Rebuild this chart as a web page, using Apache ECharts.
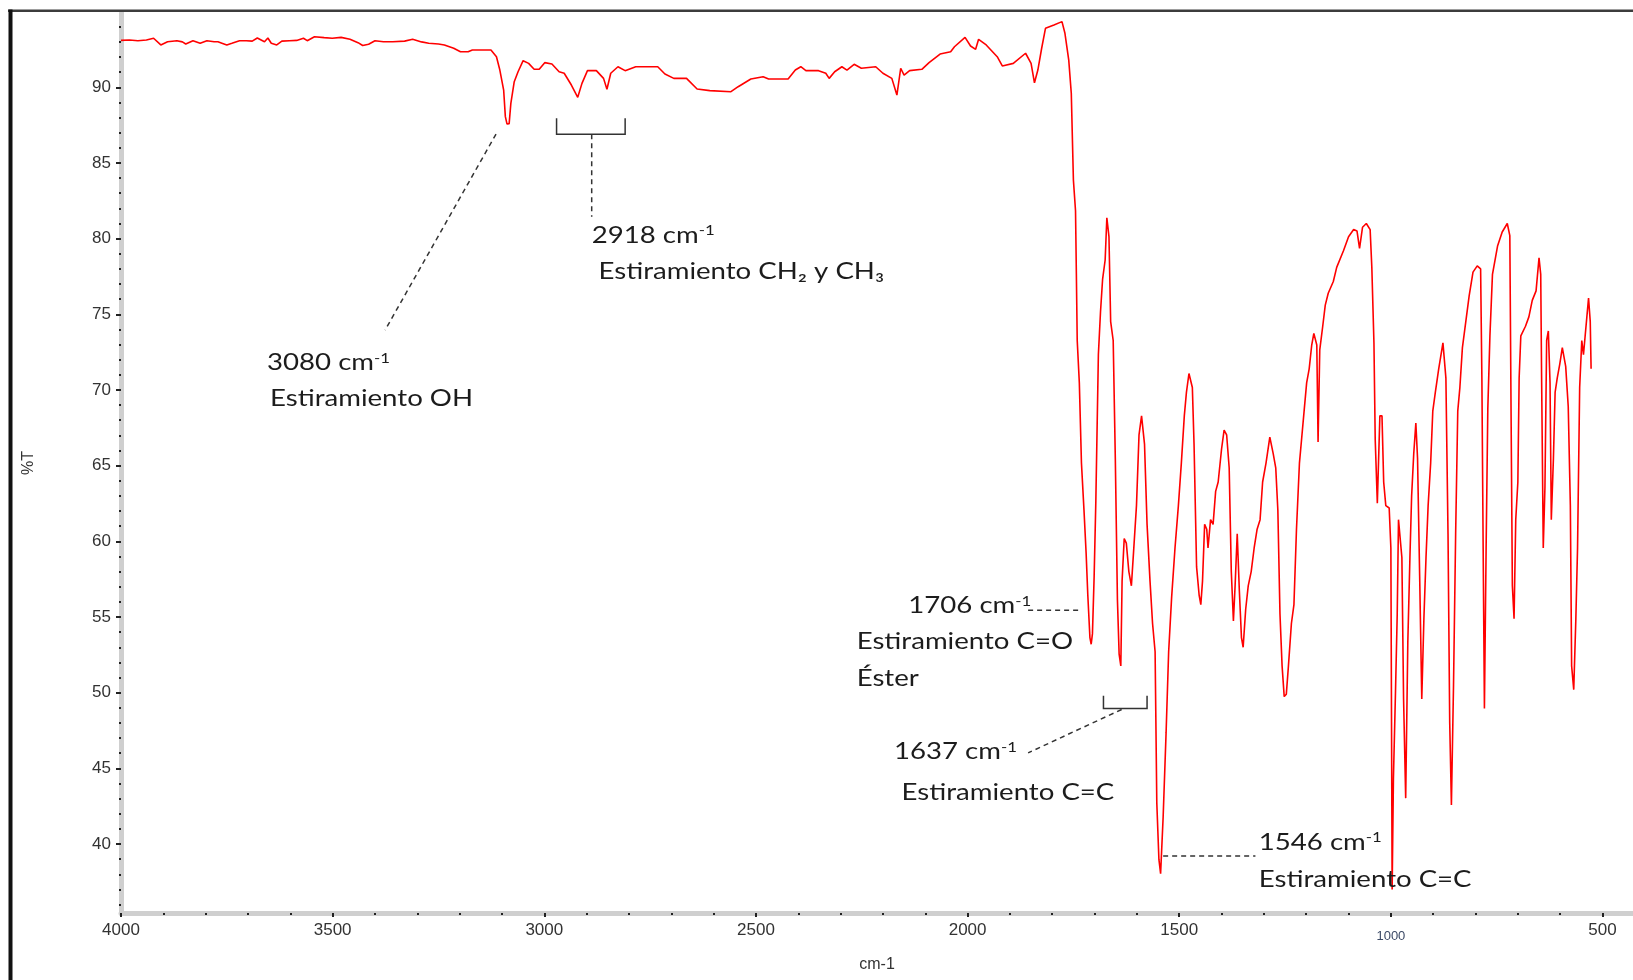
<!DOCTYPE html>
<html><head><meta charset="utf-8">
<script src="https://cdn.jsdelivr.net/npm/echarts@6/dist/echarts.min.js"></script>
<style>html,body{margin:0;padding:0;background:#fff}#c{width:1633px;height:980px}</style>
</head><body><div id="c"></div>
<script>
// ---- data (wavenumber cm-1, %T) ----
const wavenumbers = [4000,3997,3980,3960,3940,3923,3906,3890,3868,3855,3847,3830,3813,3797,3780,3771,3760,3750,3738,3720,3704,3690,3678,3661,3653,3645,3632,3620,3602,3585,3569,3560,3543,3520,3501,3480,3459,3440,3429,3415,3400,3380,3358,3330,3311,3290,3273,3250,3236,3214,3198,3180,3170,3126,3113,3105,3096,3092,3088,3083,3079,3071,3062,3050,3037,3024,3012,2999,2982,2965,2953,2936,2921,2911,2898,2877,2860,2852,2843,2826,2809,2784,2732,2715,2694,2664,2639,2609,2559,2542,2512,2483,2470,2424,2407,2394,2382,2352,2335,2327,2314,2297,2285,2268,2251,2217,2200,2179,2167,2158,2150,2137,2108,2091,2065,2040,2031,2006,1993,1981,1974,1956,1930,1918,1892,1863,1850,1842,1834,1825,1816,1796,1777,1770,1761,1755,1750,1745,1743,1741,1736,1731,1725,1720,1716,1711,1708,1705,1701,1697,1691,1686,1681,1675,1671,1666,1662,1656,1651,1646,1642,1638,1635,1630,1625,1619,1613,1608,1601,1595,1589,1582,1576,1569,1563,1557,1553,1548,1544,1538,1531,1525,1518,1510,1502,1495,1488,1483,1477,1469,1465,1459,1453,1449,1445,1440,1435,1432,1426,1420,1414,1408,1400,1394,1388,1382,1377,1372,1368,1363,1358,1353,1349,1343,1337,1330,1323,1316,1309,1303,1295,1286,1278,1272,1267,1262,1257,1252,1247,1242,1235,1229,1223,1216,1211,1205,1199,1193,1187,1182,1175,1172,1168,1161,1155,1148,1136,1128,1112,1100,1088,1080,1074,1067,1058,1049,1045,1040,1037,1032,1026,1021,1017,1012,1004,1000,997,994,989,985,982,978,974,970,965,960,955,951,946,941,937,932,927,922,917,912,906,901,895,887,877,870,865,861,857,852,847,842,837,831,823,815,806,796,788,785,782,779,775,771,766,760,748,737,725,719,716,713,709,705,700,697,693,682,674,666,657,650,646,644,640,636,632,628,624,621,616,612,607,601,595,587,581,576,573,568,563,559,554,549,545,541,537,533,529,527];
const transmittance = [93.1,93.13,93.13,93.08,93.13,93.24,92.8,93.01,93.08,93.0,92.86,93.08,92.91,93.08,93.01,93.01,92.9,92.8,92.91,93.08,93.08,93.05,93.26,93.01,93.26,92.91,92.8,93.05,93.08,93.1,93.24,93.08,93.34,93.28,93.24,93.3,93.17,92.95,92.76,92.85,93.08,93.01,93.01,93.05,93.17,93.0,92.91,92.86,92.8,92.58,92.35,92.35,92.47,92.47,92.02,91.14,89.82,88.06,87.57,87.6,88.94,90.37,91.03,91.76,91.58,91.19,91.19,91.63,91.54,91.03,90.93,90.15,89.34,90.26,91.1,91.1,90.59,89.87,90.93,91.36,91.1,91.36,91.36,90.88,90.59,90.59,89.89,89.78,89.71,90.04,90.55,90.7,90.55,90.55,91.14,91.36,91.1,91.1,90.93,90.59,91.03,91.36,91.14,91.52,91.26,91.36,90.93,90.59,89.49,91.26,90.81,91.1,91.19,91.63,92.2,92.35,92.68,93.3,92.73,92.51,93.17,92.8,92.02,91.41,91.58,92.25,91.58,90.3,91.14,92.58,93.9,94.12,94.34,93.57,91.8,89.6,83.87,81.84,77.64,73.27,70.47,65.17,62.06,59.25,56.45,53.64,53.2,53.9,57.7,62.67,72.34,75.15,77.33,78.59,81.38,80.13,74.52,73.27,65.48,56.13,52.55,51.77,57.37,60.18,59.88,58.0,57.06,59.25,62.36,67.04,68.29,66.42,61.12,57.37,54.57,52.7,42.72,38.98,38.04,41.78,47.39,52.7,56.28,59.56,62.36,65.17,68.29,69.84,71.09,70.16,66.42,58.31,56.45,55.82,57.37,61.12,60.8,59.56,61.43,61.12,63.3,63.92,66.1,67.35,67.04,64.86,58.0,54.73,57.06,60.5,56.75,53.64,53.0,55.51,57.06,58.0,59.56,60.8,61.43,63.92,65.17,66.88,65.79,64.86,62.05,55.2,51.77,49.74,49.9,51.77,54.57,55.82,60.8,65.17,66.73,68.6,70.47,71.4,72.97,73.74,72.97,66.57,72.65,74.21,75.61,76.39,77.17,78.1,79.2,80.13,80.6,80.5,79.35,80.75,81.0,80.6,78.1,73.12,66.73,62.52,68.29,68.29,63.92,62.36,62.2,59.56,37.0,44.31,50.16,55.2,61.43,61.43,58.93,49.58,43.03,53.32,58.93,62.98,65.79,67.82,65.48,57.69,49.58,54.88,58.93,62.36,65.17,68.6,69.84,71.4,73.12,70.78,60.49,48.02,42.57,50.51,60.49,68.6,70.16,72.8,74.52,76.23,77.79,78.2,78.0,70.78,59.56,48.96,59.56,68.75,73.58,77.64,79.51,80.44,81.0,80.2,68.29,57.06,54.88,61.43,63.92,70.78,73.58,74.21,74.83,75.92,76.55,78.73,77.64,71.09,59.56,63.61,73.27,73.9,70.47,61.43,65.48,69.84,70.78,71.71,72.8,71.56,68.91,62.36,51.77,50.2,54.88,59.56,70.16,73.27,72.34,73.58,74.83,76.08,74.52,71.4];

const xTickLabels = [4000,3500,3000,2500,2000,1500,1000,500];
const yTickLabels = [40,45,50,55,60,65,70,75,80,85,90];
const xMinorTicks = [3900,3800,3700,3600,3400,3300,3200,3100,2900,2800,2700,2600,2400,2300,2200,2100,1900,1800,1700,1600,1400,1300,1200,1100,900,800,700,600];
const yMinorTicks = [36,37,38,39,41,42,43,44,46,47,48,49,51,52,53,54,56,57,58,59,61,62,63,64,66,67,68,69,71,72,73,74,76,77,78,79,81,82,83,84,86,87,88,89,91,92,93,94];

// annotation anchors in data units (wavenumber, %T)
const annoTexts = [
  {text:'3080 cm', sup:true, w:3655, t:71.78},
  {text:'Estiramiento OH', w:3648, t:69.43},
  {text:'2918 cm', sup:true, w:2888, t:80.22},
  {text:'Estiramiento CH\u2082 y CH\u2083', w:2872, t:77.83},
  {text:'1706 cm', sup:true, w:2140, t:55.75},
  {text:'Estiramiento C=O', w:2262, t:53.40},
  {text:'\u00C9ster', w:2262, t:50.96},
  {text:'1637 cm', sup:true, w:2174, t:46.10},
  {text:'Estiramiento C=C', w:2156, t:43.40},
  {text:'1546 cm', sup:true, w:1312, t:40.12},
  {text:'Estiramiento C=C', w:1312, t:37.67}
];
const annoLines = [
  {dash:true, pts:[[3114,86.91],[3376,73.96]]},
  {dash:false, pts:[[2971,87.95],[2971,86.89],[2809,86.89],[2809,87.95]]},
  {dash:true, pts:[[2888,86.89],[2888,81.45]]},
  {dash:true, pts:[[1857,55.44],[1730,55.44]]},
  {dash:false, pts:[[1679,49.80],[1679,48.96],[1576,48.96],[1576,49.80]]},
  {dash:true, pts:[[1636,48.89],[1857,46.02]]},
  {dash:true, pts:[[1538,39.21],[1320,39.21]]}
];

const seriesData = wavenumbers.map((w,i)=>[w, transmittance[i]]);
const X_MIN = 428, X_MAX = 4000, Y_MIN = 35.44, Y_MAX = 94.91;
const axisFont = 'Liberation Sans, Arial, sans-serif';

const chart = echarts.init(document.getElementById('c'), null, {renderer:'canvas'});
const option = {
  animation:false,
  backgroundColor:'#fff',
  grid:{left:121, right:0, top:13, bottom:67, containLabel:false},
  xAxis:[{
    type:'value', inverse:true, min:X_MIN, max:X_MAX,
    name:'cm-1', nameLocation:'middle', nameGap:44,
    nameTextStyle:{fontFamily:axisFont, fontSize:16, color:'#333'},
    axisLine:{show:true, lineStyle:{color:'#cfcfcf', width:5}},
    axisTick:{show:true, customValues:xTickLabels, length:4, lineStyle:{color:'#222', width:2}},
    axisLabel:{customValues:xTickLabels, margin:9, fontFamily:axisFont, fontSize:17, color:'#333',
      formatter:v => v===1000 ? '{s|1000}' : '{v|'+v+'}',
      rich:{v:{fontFamily:axisFont, fontSize:17, color:'#333'}, s:{fontFamily:axisFont, fontSize:13, color:'#3c4a66', padding:[8,0,0,0]}}},
    splitLine:{show:false}
  },{
    type:'value', inverse:true, min:X_MIN, max:X_MAX, position:'bottom',
    axisLine:{show:false},
    axisTick:{show:true, customValues:xMinorTicks, length:2, lineStyle:{color:'#222', width:2}},
    axisLabel:{show:false}, splitLine:{show:false}
  }],
  yAxis:[{
    type:'value', min:Y_MIN, max:Y_MAX,
    name:'%T', nameLocation:'middle', nameGap:84, nameRotate:90,
    nameTextStyle:{fontFamily:axisFont, fontSize:16, color:'#333'},
    axisLine:{show:true, lineStyle:{color:'#cfcfcf', width:5}},
    axisTick:{show:true, customValues:yTickLabels, length:5, lineStyle:{color:'#222', width:2}},
    axisLabel:{customValues:yTickLabels, margin:10, fontFamily:axisFont, fontSize:17, color:'#333'},
    splitLine:{show:false}
  },{
    type:'value', min:Y_MIN, max:Y_MAX, position:'left',
    axisLine:{show:false},
    axisTick:{show:true, customValues:yMinorTicks, length:2, lineStyle:{color:'#222', width:2}},
    axisLabel:{show:false}, splitLine:{show:false}
  }],
  series:[{
    type:'line', data:seriesData, xAxisIndex:0, yAxisIndex:0,
    showSymbol:false, symbol:'none', smooth:false,
    lineStyle:{color:'#ff0000', width:1.6}, z:5
  }]
};
chart.setOption(option);

const px = p => chart.convertToPixel({seriesIndex:0}, p);
const SX = 1.2;
const txtColor = '#1c1c1c';
const rich = {
  n:{fontFamily:'Lato, sans-serif', fontSize:23, fill:txtColor},
  s:{fontFamily:'Lato, sans-serif', fontSize:14, fill:txtColor, verticalAlign:'top'}
};
const g = [];
g.push({type:'rect', shape:{x:8, y:9.5, width:1625, height:2.5}, style:{fill:'#3c3c3c'}, z:100, silent:true});
g.push({type:'rect', shape:{x:8.5, y:9.5, width:4, height:971}, style:{fill:'#111'}, z:100, silent:true});
annoLines.forEach(l => {
  g.push({type:'polyline', shape:{points:l.pts.map(px)},
    style:{stroke:'#333', lineWidth:1.5, fill:null, lineDash: l.dash ? [5,4] : null}, z:50, silent:true});
});
annoTexts.forEach(t => {
  const p = px([t.w, t.t]);
  g.push({type:'text', x:p[0], y:p[1], scaleX:SX, z:60, silent:true,
    style:{text: t.sup ? '{n|'+t.text+'}{s|-1}' : '{n|'+t.text+'}', rich:rich,
      align:'left', verticalAlign:'middle', fill:txtColor}});
});
chart.setOption({graphic:g});
</script>
</body></html>
